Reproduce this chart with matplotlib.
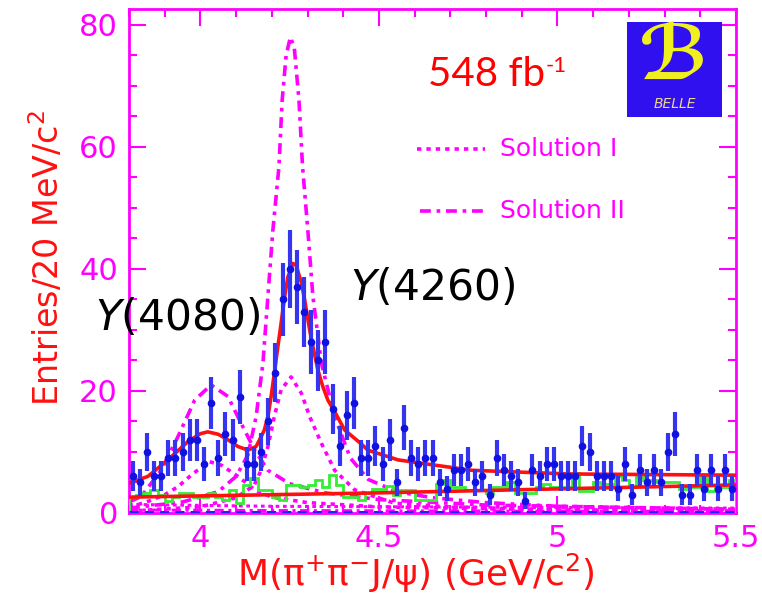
import numpy as np
import matplotlib
matplotlib.use("Agg")
import matplotlib.pyplot as plt
from matplotlib.patches import Rectangle

plt.rcParams['font.family'] = ['DejaVu Sans']
plt.rcParams['mathtext.fontset'] = 'dejavusans'

# ---------------- data ----------------
bin_low, bin_width, n_bins = 3.80, 0.02, 85
counts = [6, 5, 10, 6, 6, 9, 9, 10, 12, 12,
          8, 18, 9, 13, 12, 19, 8, 8, 10, 15,
          23, 35, 40, 37, 33, 28, 25, 28, 17, 11,
          16, 18, 9, 9, 11, 8, 12, 5, 14, 9,
          8, 9, 9, 5, 4, 7, 7, 8, 5, 6,
          3, 9, 7, 6, 5, 2, 7, 6, 8, 8,
          6, 6, 6, 11, 10, 6, 6, 6, 4, 8,
          3, 7, 5, 7, 5, 10, 13, 3, 3, 7,
          4, 7, 4, 7, 4]

sideband = [2.7, 3.0, 3.2, 3.8, 3.0, 1.9, 2.7, 3.2, 3.2, 2.7,
            2.7, 3.2, 2.7, 2.1, 3.8, 1.6, 4.6, 5.7, 3.8, 3.8,
            2.7, 2.1, 4.6, 4.6, 4.3, 4.6, 5.4, 4.3, 6.2, 4.6,
            2.7, 2.7, 2.1, 3.2, 4.0, 4.0, 4.5, 3.0, 3.8, 3.8,
            2.1, 2.1, 2.1, 4.8, 5.4, 4.3, 4.3, 3.8, 3.8, 3.8,
            3.3, 4.3, 4.3, 5.1, 3.3, 3.3, 3.3, 4.3, 4.8, 4.3,
            4.3, 4.3, 6.5, 3.6, 3.6, 5.1, 4.8, 4.8, 6.0, 5.4,
            4.3, 5.9, 5.4, 5.4, 5.1, 5.1, 5.1, 4.0, 4.3, 4.3,
            5.9, 3.6, 4.3, 4.3, 5.4]

fit_x = [3.800, 3.853, 3.909, 3.965, 4.000, 4.021, 4.050, 4.077, 4.105, 4.133,
         4.156, 4.170, 4.179, 4.189, 4.198, 4.207, 4.217, 4.226, 4.236, 4.245,
         4.259, 4.268, 4.283, 4.292, 4.306, 4.315, 4.329, 4.343, 4.357, 4.376,
         4.404, 4.449, 4.469, 4.554, 4.65, 4.76, 5.03, 5.5]
fit_y = [4.9, 6.0, 8.7, 11.7, 13.0, 13.3, 12.9, 12.0, 10.9, 10.3,
         10.9, 12.5, 13.6, 15.8, 19.1, 22.9, 27.3, 31.1, 35.5, 38.7,
         40.9, 40.6, 37.7, 34.9, 30.0, 27.3, 23.4, 20.7, 18.5, 16.6,
         13.6, 11.4, 10.3, 8.7, 7.9, 7.0, 6.4, 6.2]

bkg_x = [3.8, 4.5, 5.5]
bkg_y = [2.6, 3.3, 4.6]

# Solution II (dash-dot)
s2_y4260_x = [3.80, 3.95, 4.05, 4.10, 4.133, 4.156, 4.175, 4.189, 4.203, 4.220, 4.229,
              4.240, 4.252, 4.263, 4.276, 4.286, 4.301, 4.315, 4.339, 4.376, 4.42,
              4.47, 4.55, 4.65, 4.8, 5.0, 5.5]
s2_y4260_y = [0.8, 1.8, 3.5, 6.0, 9.5, 15.8, 24.5, 35.5, 46.4, 56.8, 67.7,
              75.0, 78.0, 76.2, 67.7, 56.8, 46.2, 35.5, 24.5, 15.8, 9.0,
              5.5, 3.5, 2.5, 1.7, 1.1, 0.6]
s2_y4080_x = [3.80, 3.834, 3.89, 3.937, 3.984, 4.030, 4.077, 4.114, 4.152, 4.189,
              4.25, 4.35, 4.5, 4.8, 5.5]
s2_y4080_y = [1.8, 2.7, 7.0, 12.5, 18.5, 21.0, 19.1, 14.7, 10.3, 7.0,
              4.8, 3.3, 2.2, 1.3, 0.6]
# Solution I (dotted)
s1_y4260_x = [3.80, 4.0, 4.10, 4.15, 4.170, 4.189, 4.207, 4.226, 4.254, 4.283,
              4.306, 4.339, 4.376, 4.432, 4.544, 4.7, 5.0, 5.5]
s1_y4260_y = [0.3, 1.0, 2.5, 4.5, 7.0, 10.9, 15.8, 20.2, 22.3, 19.6,
              15.8, 11.4, 7.0, 3.8, 1.6, 1.0, 0.5, 0.3]
s1_y4080_x = [3.80, 3.853, 3.90, 3.937, 3.98, 4.026, 4.06, 4.105, 4.152, 4.20,
              4.3, 4.5, 5.0, 5.5]
s1_y4080_y = [0.9, 1.9, 3.0, 4.3, 6.5, 8.4, 7.8, 6.0, 3.8, 2.6,
              1.7, 1.0, 0.5, 0.3]
# small interference terms near zero
int1_x = [3.8, 4.2, 4.6, 5.0, 5.5]
int1_y = [1.4, 1.1, 1.0, 0.9, 0.8]
int2_x = [3.8, 4.2, 4.6, 5.0, 5.5]
int2_y = [0.5, 0.4, 0.35, 0.3, 0.3]

x_ticks = [4, 4.5, 5, 5.5]
x_ticklabels = ['4', '4.5', '5', '5.5']
y_ticks = [0, 20, 40, 60, 80]

# ---------------- figure ----------------
MAG = '#ff00ff'
RED = '#ff1010'
fig = plt.figure(figsize=(7.62, 6.0), dpi=100)
ax = fig.add_axes([129/762, 87/600, 607/762, 504/600])

edges = bin_low + bin_width*np.arange(n_bins + 1)
centers = 0.5*(edges[:-1] + edges[1:])
cnt = np.array(counts, dtype=float)

ax.plot(int1_x, int1_y, color=MAG, lw=2.2, ls=(0, (1.2, 1.2)), zorder=2)
ax.plot(int2_x, int2_y, color=MAG, lw=2.2, ls=(0, (3, 1.5, 1, 1.5)), zorder=2)

ax.plot(s1_y4080_x, s1_y4080_y, color=MAG, lw=2.6, ls=(0, (1.2, 1.4)), zorder=3)
ax.plot(s1_y4260_x, s1_y4260_y, color=MAG, lw=2.6, ls=(0, (1.2, 1.4)), zorder=3)
ax.plot(s2_y4080_x, s2_y4080_y, color=MAG, lw=2.6, ls=(0, (3, 1.6, 1, 1.6)), zorder=3)
ax.plot(s2_y4260_x, s2_y4260_y, color=MAG, lw=2.6, ls=(0, (3, 1.6, 1, 1.6)), zorder=3)

ax.stairs(sideband, edges, color='#33ee33', lw=2.0, zorder=4)
ax.plot(bkg_x, bkg_y, color=RED, lw=2.6, zorder=5)
ax.plot(fit_x, fit_y, color=RED, lw=2.6, zorder=5)

ax.axhline(0.2, color='#2020ff', lw=2.2, ls=(0, (3, 2)), zorder=6)

ax.errorbar(centers, cnt, yerr=np.sqrt(cnt), fmt='o', ms=4.5, color='#1010e0',
            ecolor='#3535f0', elinewidth=3.0, capsize=0, zorder=7)

ax.set_xlim(3.8, 5.5)
ax.set_ylim(0, 82.6)
ax.set_xticks(x_ticks)
ax.set_xticklabels(x_ticklabels)
ax.set_yticks(y_ticks)
ax.set_xticks(np.arange(3.8, 5.501, 0.1), minor=True)
ax.set_yticks(np.arange(0, 82.6, 5), minor=True)
ax.tick_params(which='both', direction='in', top=True, right=True, color=MAG,
               labelcolor=MAG, labelsize=22, width=1.5)
ax.tick_params(which='major', length=12)
ax.tick_params(which='minor', length=6)
ax.tick_params(axis='y', pad=8)
ax.tick_params(axis='x', pad=8)
for s in ax.spines.values():
    s.set_color(MAG)
    s.set_linewidth(2.0)

# axis titles
fig.text(47/762, 1 - 258/600, 'Entries/20 MeV/c$^2$', rotation=90, color=RED,
         fontsize=24, ha='center', va='center')
fig.text(416/762, 1 - 573/600, 'M(\u03c0$^{+}$\u03c0$^{-}$J/\u03c8) (GeV/c$^{2}$)', color=RED,
         fontsize=26, ha='center', va='center')

# state labels
fig.text(95/762, 1 - 318/600, '$Y$(4080)', color='black', fontsize=30.5, ha='left', va='center')
fig.text(350/762, 1 - 288/600, '$Y$(4260)', color='black', fontsize=30.5, ha='left', va='center')

# luminosity
fig.text(428/762, 1 - 75/600, '548 fb', color='#ff0000', fontsize=29, family='Lato',
         ha='left', va='center')
fig.text(546/762, 1 - 66/600, '-1', color='#ff0000', fontsize=16, family='Lato',
         ha='left', va='center')

# legend
ax.plot([0.4745, 0.5865], [0.722, 0.722], transform=ax.transAxes, color=MAG, lw=2.6,
        ls=(0, (1.2, 1.4)))
ax.text(0.611, 0.722, 'Solution I', transform=ax.transAxes, color=MAG, fontsize=18,
        ha='left', va='center')
ax.plot([0.479, 0.5865], [0.599, 0.599], transform=ax.transAxes, color=MAG, lw=2.6,
        ls=(0, (3, 1.6, 1, 1.6)))
ax.text(0.611, 0.599, 'Solution II', transform=ax.transAxes, color=MAG, fontsize=18,
        ha='left', va='center')

# Belle logo
fig.patches.append(Rectangle((627/762, 1 - 117/600), 95/762, 95/600, transform=fig.transFigure,
                             facecolor='#3010ee', edgecolor='none', zorder=10))
fig.text(674/762, 1 - 58/600, '\u212c', color='#f0f020', fontsize=54, fontweight='bold',
         family=['DejaVu Sans', 'DejaVu Serif'], ha='center', va='center', zorder=11)
fig.text(675/762, 1 - 104/600, 'BELLE', color='#e8d890', fontsize=10, style='italic',
         ha='center', va='center', zorder=11)

fig.savefig('out.png', dpi=100)
